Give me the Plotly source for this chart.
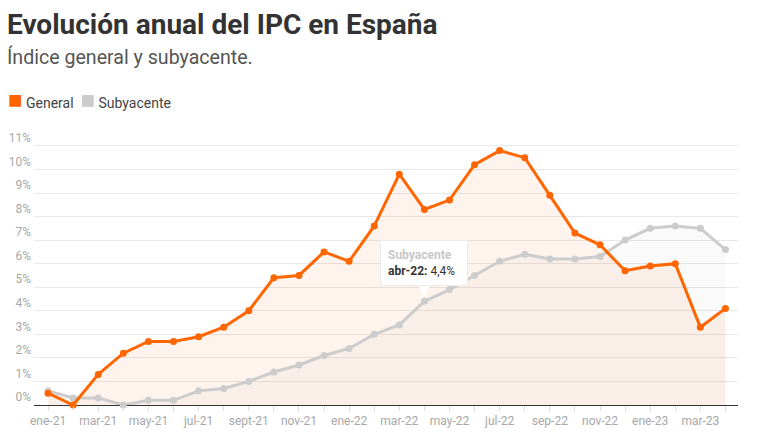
import plotly.graph_objects as go

# months shown on the x axis (only every second one gets a label)
months = ['ene-21', 'feb-21', 'mar-21', 'abr-21', 'may-21', 'jun-21', 'jul-21', 'ago-21',
          'sept-21', 'oct-21', 'nov-21', 'dic-21', 'ene-22', 'feb-22', 'mar-22', 'abr-22',
          'may-22', 'jun-22', 'jul-22', 'ago-22', 'sep-22', 'oct-22', 'nov-22', 'dic-22',
          'ene-23', 'feb-23', 'mar-23', 'abr-23']
general = [0.5, 0.0, 1.3, 2.2, 2.7, 2.7, 2.9, 3.3, 4.0, 5.4, 5.5, 6.5, 6.1, 7.6,
           9.8, 8.3, 8.7, 10.2, 10.8, 10.5, 8.9, 7.3, 6.8, 5.7, 5.9, 6.0, 3.3, 4.1]
subyacente = [0.6, 0.3, 0.3, 0.0, 0.2, 0.2, 0.6, 0.7, 1.0, 1.4, 1.7, 2.1, 2.4, 3.0,
              3.4, 4.4, 4.9, 5.5, 6.1, 6.4, 6.2, 6.2, 6.3, 7.0, 7.5, 7.6, 7.5, 6.6]
y_ticks = list(range(0, 12))

ORANGE = '#ff6600'
GREY = '#cccccc'
FONT = 'Roboto'

# the page body has an 8px margin, so the figure is 8px smaller each way
OFF = 8
W, H = 764 - OFF, 437 - OFF
ML, MR, MT, MB = 26, 26, 132, 32
PW, PH = W - ML - MR, H - MT - MB


def px_x(x):
  # screen pixel (from left) -> paper fraction
  return (x - OFF - ML) / PW


def px_y(y):
  # screen pixel (from top) -> paper fraction
  return 1 + (MT - (y - OFF)) / PH


tick_text = [m if i % 2 == 0 else '' for i, m in enumerate(months)]

fig = go.Figure()

# area fills first, so both lines sit on top of them
fig.add_trace(go.Scatter(x=months, y=subyacente, mode='none', fill='tozeroy',
                         fillcolor='rgba(204,204,204,0.10)', showlegend=False, hoverinfo='skip'))
fig.add_trace(go.Scatter(x=months, y=general, mode='none', fill='tozeroy',
                         fillcolor='rgba(255,102,0,0.07)', showlegend=False, hoverinfo='skip'))

fig.add_trace(go.Scatter(x=months, y=subyacente, mode='lines+markers', name='Subyacente',
                         line=dict(color=GREY, width=3), marker=dict(color=GREY, size=7),
                         showlegend=False, cliponaxis=False))
fig.add_trace(go.Scatter(x=months, y=general, mode='lines+markers', name='General',
                         line=dict(color=ORANGE, width=3), marker=dict(color=ORANGE, size=7),
                         showlegend=False, cliponaxis=False))

# static tooltip like the one in the reference: pointer + box
i_tip = months.index('abr-22')
fig.add_annotation(
  x=months[i_tip], y=subyacente[i_tip], text='', showarrow=True,
  ax=0, ay=-16, standoff=4, arrowhead=2, arrowsize=3, arrowwidth=2.5, arrowcolor='white',
)
fig.add_annotation(
  x=months[i_tip], y=subyacente[i_tip], yshift=38, showarrow=False,
  text=("<b><span style='color:#c8c8c8'>Subyacente</span></b><br>"
        "<b>" + months[i_tip] + ":</b> " + f"{subyacente[i_tip]:.1f}".replace('.', ',') + "%"),
  align='left', width=72, bgcolor='white', bordercolor='#ececec', borderwidth=1, borderpad=7,
  font=dict(family=FONT, size=12, color='#333333'),
)

# title, subtitle and legend as text
fig.add_annotation(xref='paper', yref='paper', x=px_x(5), y=px_y(25), xanchor='left', yanchor='middle',
                   text='<b>Evolución anual del IPC en España</b>', showarrow=False,
                   font=dict(family=FONT, size=28, color='#333333'))
fig.add_annotation(xref='paper', yref='paper', x=px_x(5), y=px_y(57), xanchor='left', yanchor='middle',
                   text='Índice general y subyacente.', showarrow=False,
                   font=dict(family=FONT, size=19.6, color='#555555'))
legend_items = [('General', ORANGE), ('Subyacente', GREY)]
legend_text = '  '.join(
  f"<span style='color:{c};font-size:24px'>■</span> {n}" for n, c in legend_items)
fig.add_annotation(xref='paper', yref='paper', x=px_x(6), y=px_y(100), xanchor='left', yanchor='middle',
                   text=legend_text, showarrow=False,
                   font=dict(family=FONT, size=14, color='#444444'))

fig.update_layout(
  width=W, height=H,
  margin=dict(l=ML, r=MR, t=MT, b=MB),
  paper_bgcolor='white', plot_bgcolor='white',
  font=dict(family=FONT, size=12, color='#333333'),
  showlegend=False,
  hovermode=False,
)

fig.update_xaxes(
  type='category', range=[-0.56, 27.5], automargin=False,
  tickmode='array', tickvals=months, ticktext=tick_text,
  ticks='outside', ticklen=5, tickcolor='#dddddd', tickwidth=1,
  tickfont=dict(family=FONT, size=12, color='#a8a8a8'),
  showgrid=False, showline=False, zeroline=False,
)
fig.update_yaxes(
  range=[0, 11.25], automargin=False, tickmode='array', tickvals=y_ticks,
  ticktext=[f'{v}%' for v in y_ticks], ticklabelshift=-8, ticklabelstandoff=2,
  tickfont=dict(family=FONT, size=12, color='#a8a8a8'),
  showgrid=True, gridcolor='#e8e8e8', gridwidth=1,
  zeroline=True, zerolinecolor='#333333', zerolinewidth=1.2,
  showline=False, ticks='',
)

fig.write_html('out.html')
